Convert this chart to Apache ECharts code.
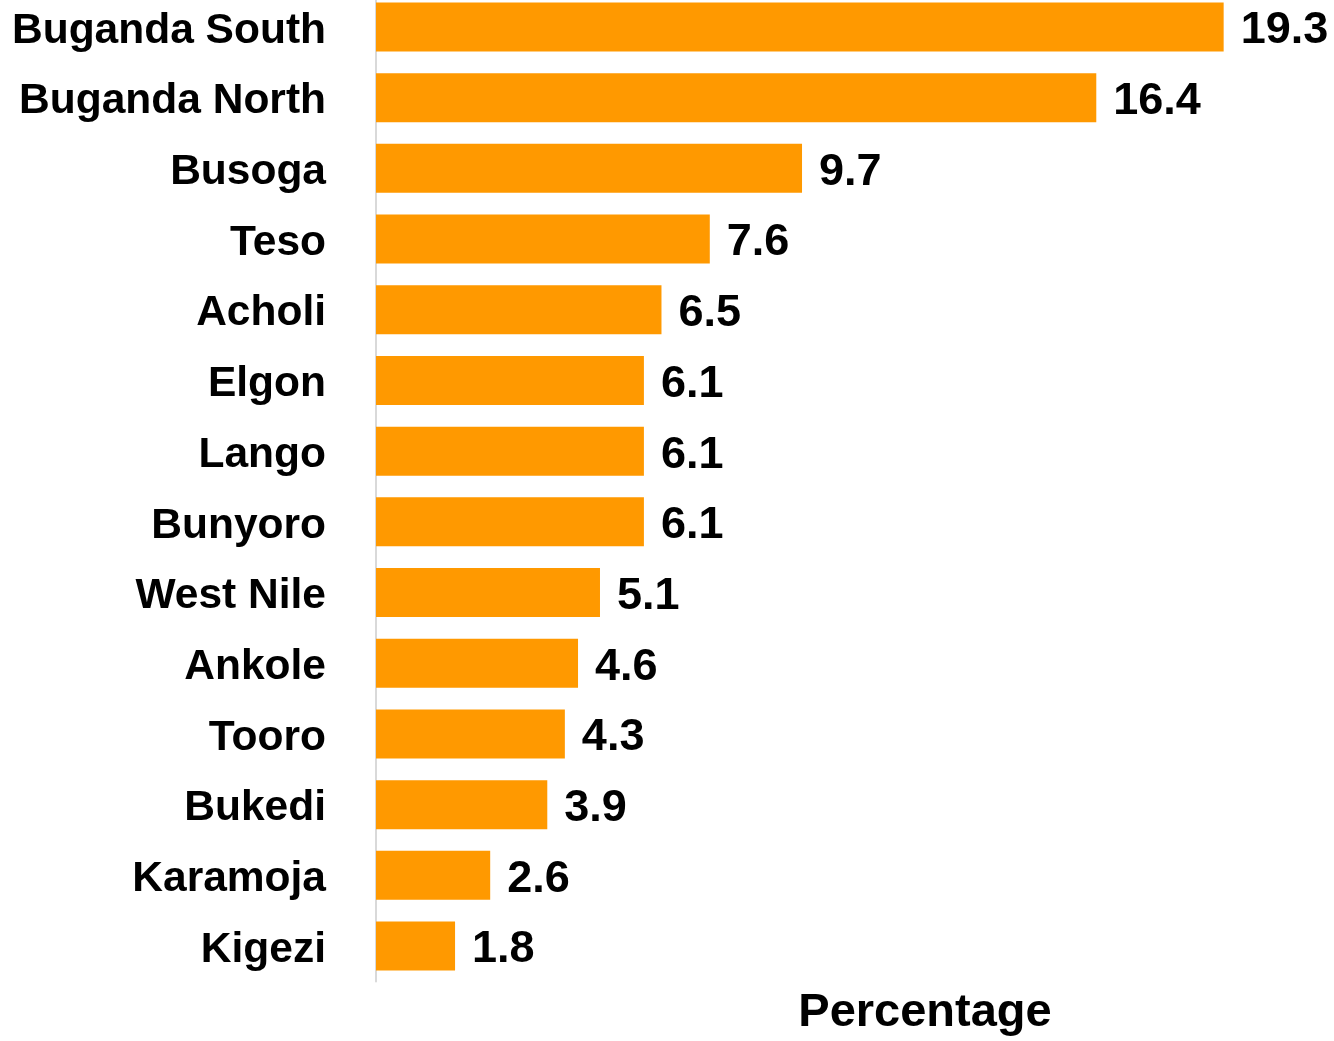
<!DOCTYPE html>
<html>
<head>
<meta charset="utf-8">
<script src="https://cdn.jsdelivr.net/npm/echarts@6/dist/echarts.min.js"></script>
<style>
  html, body { margin: 0; padding: 0; background: #fff; }
  #chart { width: 1334px; height: 1041px; }
</style>
</head>
<body>
<div id="chart"></div>
<script>
const regions = ["Buganda South", "Buganda North", "Busoga", "Teso", "Acholi", "Elgon", "Lango",
  "Bunyoro", "West Nile", "Ankole", "Tooro", "Bukedi", "Karamoja", "Kigezi"];
const percentage = [19.3, 16.4, 9.7, 7.6, 6.5, 6.1, 6.1, 6.1, 5.1, 4.6, 4.3, 3.9, 2.6, 1.8];

const font = "'Liberation Sans', Arial, sans-serif";

const chart = echarts.init(document.getElementById("chart"));
chart.setOption({
  animation: false,
  // grid runs past the right edge on purpose (axis goes to 25)
  grid: {left: 376, top: -8.4, height: 989.8, width: 1098, outerBoundsMode: "none"},
  xAxis: {
    type: "value",
    min: 0,
    max: 25,
    name: "Percentage",
    nameLocation: "middle",
    nameGap: 8,
    nameTextStyle: {fontFamily: font, fontWeight: "bold", fontSize: 47, color: "#000"},
    axisLine: {show: false},
    axisTick: {show: false},
    axisLabel: {show: false},
    splitLine: {show: false},
  },
  yAxis: {
    type: "category",
    inverse: true,
    data: regions,
    axisLine: {show: true, lineStyle: {color: "#d9d9d9", width: 2}},
    axisTick: {show: false},
    axisLabel: {
      margin: 50,
      formatter: v => "{a|" + v + "}",
      rich: {
        a: {
          padding: [8, 0, 0, 0],
          fontFamily: font,
          fontWeight: "bold",
          fontSize: 42.5,
          color: "#000",
        },
      },
    },
  },
  series: [
    {
      type: "bar",
      data: percentage,
      barWidth: 49,
      itemStyle: {color: "#ff9900"},
      label: {
        show: true,
        position: "right",
        distance: 17,
        offset: [0, 4],
        fontFamily: font,
        fontWeight: "bold",
        fontSize: 45,
        color: "#000",
        formatter: p => p.value.toFixed(1),
      },
    },
  ],
});
</script>
</body>
</html>
